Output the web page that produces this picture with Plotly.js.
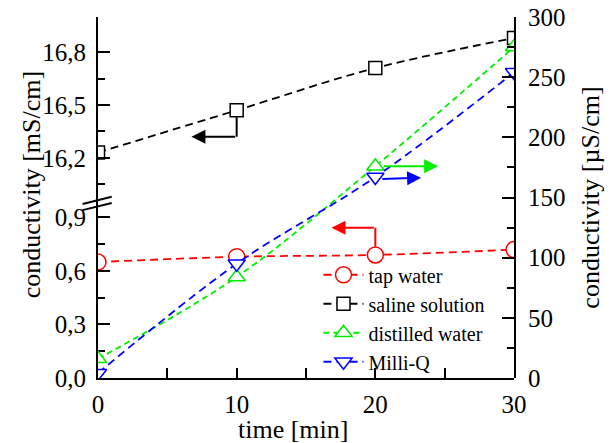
<!DOCTYPE html>
<html>
<head>
<meta charset="utf-8">
<script src="https://cdn.plot.ly/plotly-3.0.1.min.js"></script>
<style>body{margin:0;padding:0;background:#fff;} #chart{width:616px;height:443px;}</style>
</head>
<body>
<div id="chart"></div>
<script>
// Data
const time = [0, 10, 20, 30];
const tapWater = [0.65, 0.68, 0.69, 0.72];          // mS/cm (left, lower)
const salineSolution = [16.23, 16.47, 16.71, 16.88]; // mS/cm (left, upper)
const distilledWater = [16, 84, 176, 275];           // µS/cm (right)
const milliQ = [4, 95, 167, 254];                    // µS/cm (right)
const xTicks = [0, 10, 20, 30];

const FONT = 'Liberation Serif';
const dash = '8px,5px';

function mk(symbol, size, color) {
  return {symbol: symbol, size: size, color: '#ffffff', line: {width: 1.5, color: color}};
}

const traces = [
  {x: time, y: tapWater, name: 'tap water', yaxis: 'y', type: 'scatter', mode: 'lines+markers',
   line: {color: '#ff0000', width: 1.8, dash: dash, shape: 'spline'},
   marker: mk('circle', 16, '#ff0000')},
  {x: time, y: salineSolution, name: 'saline solution', yaxis: 'y2', type: 'scatter', mode: 'lines+markers',
   line: {color: '#000000', width: 1.8, dash: dash, shape: 'spline'},
   marker: mk('square', 13, '#000000')},
  {x: time, y: distilledWater, name: 'distilled water', yaxis: 'y3', type: 'scatter', mode: 'lines+markers',
   line: {color: '#00ee00', width: 1.8, dash: '6px,4px', shape: 'spline'},
   marker: mk('triangle-up', 15, '#00ee00')},
  {x: time, y: milliQ, name: 'Milli-Q', yaxis: 'y3', type: 'scatter', mode: 'lines+markers',
   line: {color: '#0000ff', width: 1.8, dash: dash, shape: 'spline'},
   marker: mk('triangle-down', 15, '#0000ff')}
];

const axBase = {showgrid: false, zeroline: false, showline: true, linecolor: '#000', linewidth: 2,
  ticks: 'inside', tickcolor: '#000', tickwidth: 2, tickfont: {family: FONT, size: 25, color: '#000'}};

const layout = {
  width: 616, height: 443,
  margin: {l: 98, r: 102, t: 17, b: 65},
  paper_bgcolor: '#fff', plot_bgcolor: 'rgba(0,0,0,0)',
  separators: ',.',
  font: {family: FONT, color: '#000'},
  showlegend: true,
  legend: {x: 0.53, y: 0.34, xanchor: 'left', yanchor: 'top', bgcolor: 'rgba(0,0,0,0)',
    font: {family: FONT, size: 20, color: '#000'}, tracegroupgap: 0, itemwidth: 40},
  xaxis: Object.assign({}, axBase, {range: [0, 30], tickmode: 'array', tickvals: xTicks,
    ticklen: 10, mirror: false, ticklabelstandoff: 3, anchor: 'y',
    minor: {dtick: 5, tick0: 0, ticks: 'inside', ticklen: 10, tickwidth: 2, tickcolor: '#000'}}),
  xaxis2: Object.assign({}, axBase, {range: [0, 30], overlaying: 'x', side: 'top', anchor: 'y3',
    tickmode: 'linear', tick0: 0, dtick: 5, ticklen: 10, showticklabels: false}),
  yaxis: Object.assign({}, axBase, {domain: [0, 0.494], range: [0, 1.0], anchor: 'x',
    tick0: 0, dtick: 0.3, tickformat: '.1f', ticklen: 12, ticklabelstandoff: 5,
    minor: {tickmode: 'array', tickvals: [0.15, 0.45, 0.75], ticks: 'inside', ticklen: 7, tickwidth: 2, tickcolor: '#000'}}),
  yaxis2: Object.assign({}, axBase, {domain: [0.494, 1], range: [15.962, 17.0], anchor: 'x',
    tick0: 16.2, dtick: 0.3, tickformat: '.1f', ticklen: 12, ticklabelstandoff: 5,
    minor: {tickmode: 'array', tickvals: [16.05, 16.35, 16.65], ticks: 'inside', ticklen: 7, tickwidth: 2, tickcolor: '#000'}}),
  yaxis3: Object.assign({}, axBase, {domain: [0, 1], range: [0, 300], anchor: 'x', side: 'right',
    tick0: 0, dtick: 50, ticklen: 12, ticklabelstandoff: 7,
    minor: {dtick: 25, tick0: 0, ticks: 'inside', ticklen: 7, tickwidth: 2, tickcolor: '#000'}}),
  annotations: [
    {xref: 'paper', yref: 'paper', x: -0.16, y: 0.535, text: 'conductivity [mS/cm]', textangle: -90,
     showarrow: false, xanchor: 'center', yanchor: 'middle', font: {family: FONT, size: 26, color: '#000'}},
    {xref: 'paper', yref: 'paper', x: 1.183, y: 0.5, text: 'conductivity [µS/cm]', textangle: -90,
     showarrow: false, xanchor: 'center', yanchor: 'middle', font: {family: FONT, size: 26, color: '#000'}},
    {xref: 'paper', yref: 'paper', x: 0.469, y: -0.144, text: 'time [min]',
     showarrow: false, xanchor: 'center', yanchor: 'middle', font: {family: FONT, size: 26, color: '#000'}},
    // arrows
    {xref: 'x', yref: 'y2', axref: 'x', ayref: 'y2', x: 6.74, y: 16.32, ax: 10, ay: 16.32, text: '',
     showarrow: true, arrowhead: 2, arrowsize: 1.4, arrowwidth: 2, arrowcolor: '#000'},
    {xref: 'x', yref: 'y', axref: 'x', ayref: 'y', x: 16.84, y: 0.842, ax: 20, ay: 0.842, text: '',
     showarrow: true, arrowhead: 2, arrowsize: 1.4, arrowwidth: 2, arrowcolor: '#ff0000'},
    {xref: 'x', yref: 'y3', axref: 'x', ayref: 'y3', x: 24.53, y: 176, ax: 20.5, ay: 176, text: '',
     showarrow: true, arrowhead: 2, arrowsize: 1.4, arrowwidth: 2, arrowcolor: '#00ee00'},
    {xref: 'x', yref: 'y3', axref: 'x', ayref: 'y3', x: 23.3, y: 166.5, ax: 20.4, ay: 165.3, text: '',
     showarrow: true, arrowhead: 2, arrowsize: 1.4, arrowwidth: 2, arrowcolor: '#0000ff'}
  ],
  shapes: [
    {type: 'line', xref: 'x', yref: 'y2', x0: 10, x1: 10, y0: 16.43, y1: 16.32, line: {color: '#000', width: 2}},
    {type: 'line', xref: 'x', yref: 'y', x0: 20, x1: 20, y0: 0.738, y1: 0.842, line: {color: '#ff0000', width: 2}},
    // axis break marks
    {type: 'line', xref: 'paper', yref: 'paper', x0: -0.037, x1: 0.033, y0: 0.482, y1: 0.502, line: {color: '#000', width: 2}},
    {type: 'line', xref: 'paper', yref: 'paper', x0: -0.037, x1: 0.033, y0: 0.465, y1: 0.485, line: {color: '#000', width: 2}}
  ]
};

Plotly.newPlot('chart', traces, layout, {displayModeBar: false, staticPlot: true});
</script>
</body>
</html>
